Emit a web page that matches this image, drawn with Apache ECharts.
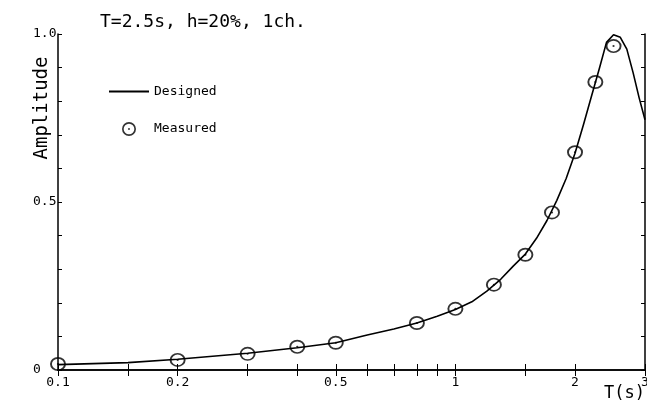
<!DOCTYPE html>
<html>
<head>
<meta charset="utf-8">
<script src="https://cdn.jsdelivr.net/npm/echarts@6/dist/echarts.min.js"></script>
<style>html,body{margin:0;padding:0;background:#fff}#c{width:647px;height:404px}</style>
</head>
<body>
<div id="c"></div>
<script>
const designT = [0.1,0.15,0.2,0.3,0.4,0.5,0.6,0.7,0.8,0.9,1.0,1.1,1.2,1.3,1.4,1.5,1.6,1.7,1.8,1.9,2.0,2.1,2.2,2.3,2.4,2.5,2.6,2.7,2.8,2.9,3.0];
const designA = [0.016,0.022,0.032,0.05,0.066,0.081,0.104,0.122,0.14,0.16,0.18,0.203,0.235,0.27,0.31,0.345,0.392,0.445,0.505,0.57,0.645,0.73,0.815,0.895,0.975,0.998,0.99,0.955,0.885,0.81,0.745];
const measT = [0.1,0.2,0.3,0.4,0.5,0.8,1.0,1.25,1.5,1.75,2.0,2.25,2.5];
const measA = [0.018,0.03,0.048,0.069,0.081,0.14,0.182,0.254,0.343,0.469,0.648,0.857,0.964];
const xLabelVals = [0.1,0.2,0.5,1,2,3];
const xTickVals = [0.1,0.15,0.2,0.3,0.4,0.5,0.6,0.7,0.8,0.9,1,1.5,2,3];
const yLabelVals = [0,0.5,1];

const mono = 'DejaVu Sans Mono';
const ringDot = 'path://M0,50 A50,50 0 1,1 100,50 A50,50 0 1,1 0,50 Z M12,50 A38,38 0 1,0 88,50 A38,38 0 1,0 12,50 Z M43,50 A7,7 0 1,0 57,50 A7,7 0 1,0 43,50 Z';
const chart = echarts.init(document.getElementById('c'), null, {renderer:'canvas'});
const designData = designT.map((t,i)=>[t,designA[i]]);
const measData = measT.map((t,i)=>[t,measA[i]]);
const axisLine = {show:true, lineStyle:{color:'#000', width:1.5}};
chart.setOption({
  animation:false,
  backgroundColor:'#fff',
  title:{text:'T=2.5s, h=20%, 1ch.', left:95, top:8, textStyle:{fontFamily:mono, fontSize:18, fontWeight:'normal', color:'#000'}},
  legend:{
    data:[{name:'Designed', itemStyle:{color:'rgba(0,0,0,0)', borderColor:'rgba(0,0,0,0)', borderWidth:0}}, {name:'Measured'}],
    orient:'vertical', left:103, top:80,
    itemWidth:40, itemHeight:14, itemGap:24,
    textStyle:{fontFamily:mono, fontSize:13, color:'#000'}
  },
  grid:{left:58, right:2, top:34, bottom:34, outerBoundsMode:'none', containLabel:false},
  xAxis:[{
    type:'log', logBase:10, min:0.1, max:3,
    name:'T(s)', nameLocation:'end', nameGap:0, nameMoveOverlap:false,
    nameTextStyle:{fontFamily:mono, fontSize:17, color:'#000', align:'right', verticalAlign:'top', padding:[15,0,0,0]},
    axisLine:axisLine,
    axisTick:{show:true, inside:true, length:6, customValues:xTickVals, lineStyle:{color:'#000',width:1}},
    minorTick:{show:false},
    splitLine:{show:false},
    axisLabel:{customValues:xLabelVals, fontFamily:mono, fontSize:13, color:'#000', margin:6,
      formatter:v=>String(v)}
  },{
    type:'log', logBase:10, min:0.1, max:3, position:'top',
    axisLine:axisLine,
    axisTick:{show:true, inside:true, length:6, customValues:xTickVals, lineStyle:{color:'#000',width:1}},
    splitLine:{show:false}, axisLabel:{show:false}
  }],
  yAxis:[{
    type:'value', min:0, max:1, interval:0.1,
    name:'Amplitude', nameLocation:'middle', nameRotate:90, nameGap:6, nameMoveOverlap:false,
    nameTextStyle:{fontFamily:mono, fontSize:19, color:'#000', padding:[0,0,0,188]},
    axisLine:axisLine,
    axisTick:{show:true, inside:true, length:4, lineStyle:{color:'#000',width:1}},
    splitLine:{show:false},
    axisLabel:{customValues:yLabelVals, fontFamily:mono, fontSize:13, color:'#000', align:'left', margin:25,
      formatter:v=> v===0 ? '0' : v.toFixed(1)}
  },{
    type:'value', min:0, max:1, interval:0.1, position:'right',
    axisLine:axisLine,
    axisTick:{show:true, inside:true, length:4, lineStyle:{color:'#000',width:1}},
    splitLine:{show:false}, axisLabel:{show:false}
  }],
  series:[{
    name:'Designed', type:'line', data:designData, symbol:'none', smooth:false,
    lineStyle:{color:'#000', width:1.6}, itemStyle:{color:'#000'}, z:2
  },{
    name:'Measured', type:'scatter', data:measData, symbol:ringDot, symbolSize:[16,14],
    itemStyle:{color:'#000'}, z:3
  }]
});
</script>
</body>
</html>
